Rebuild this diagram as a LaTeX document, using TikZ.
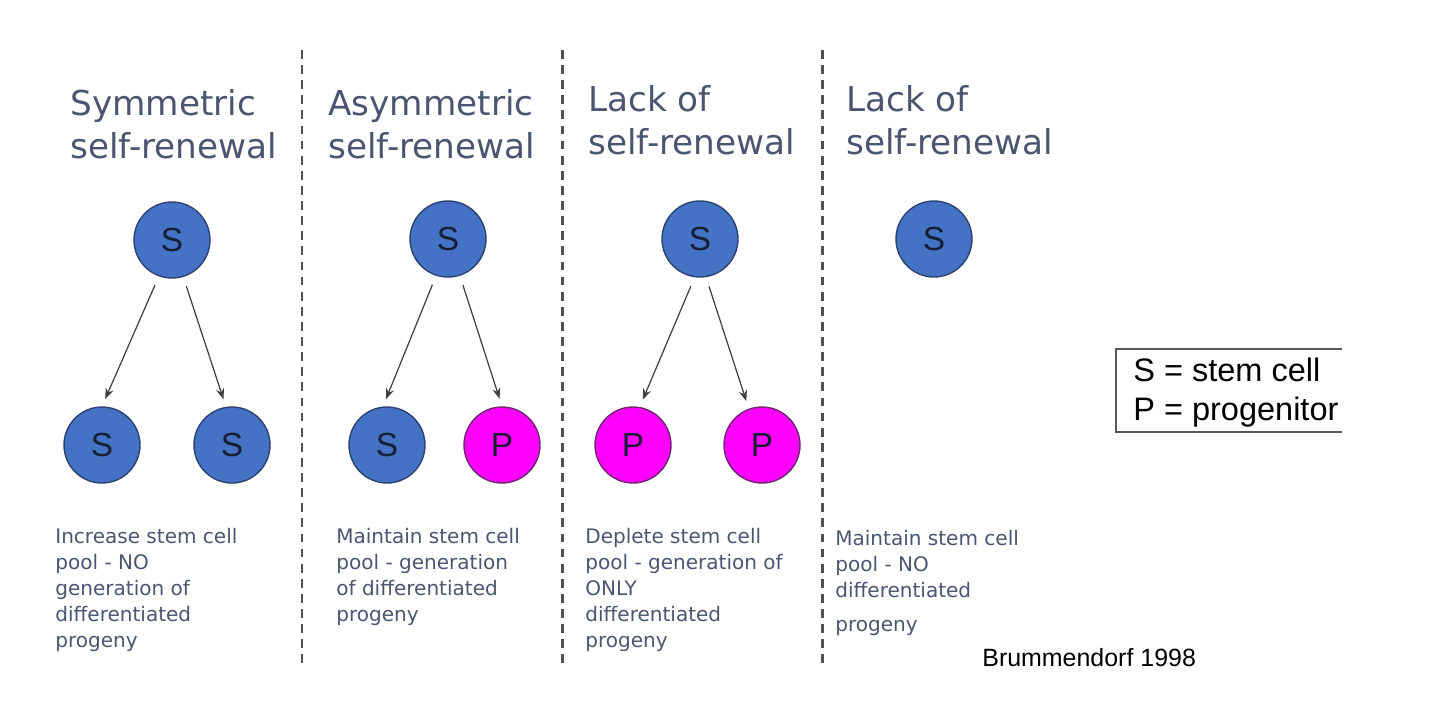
\documentclass[tikz,border=0pt]{standalone}
\usepackage{fontspec}
\setmainfont{DejaVu Sans}
\newfontfamily\arialfont{Liberation Sans}
\usetikzlibrary{positioning,arrows.meta}
\definecolor{cellblue}{RGB}{68,114,196}
\definecolor{cellline}{RGB}{44,66,112}
\definecolor{cellpink}{RGB}{255,0,255}
\definecolor{pinkline}{RGB}{110,40,110}
\definecolor{celltext}{RGB}{22,30,52}
\definecolor{txtblue}{RGB}{74,85,112}
\definecolor{divgray}{RGB}{80,80,80}

\begin{document}
\begin{tikzpicture}[x=0.02cm, y=-0.02cm, >=Stealth,
    stem/.style={circle, draw=cellline, line width=0.8pt, fill=cellblue, minimum size=1.52cm, inner sep=0pt, text=celltext, font=\arialfont\fontsize{19}{19}\selectfont},
    prog/.style={stem, draw=pinkline, fill=cellpink},
    heading/.style={anchor=base west, align=left, inner sep=0pt, text=txtblue, font=\fontsize{19.5}{24.4}\selectfont},
    remark/.style={anchor=base west, align=left, inner sep=0pt, text=txtblue, font=\fontsize{11.4}{14.7}\selectfont},
    divider/.style={draw=divgray, line width=1.7pt, dash pattern=on 5pt off 3.6pt},
    link/.style={->, draw=black!75, line width=0.7pt, shorten <=5.5pt, shorten >=4.5pt}]
    \useasboundingbox (0,0) rectangle (1440,708);

    % column dividers
    \draw [divider] (302,50) -- (302,668);
    \draw [divider] (562,50) -- (562,668);
    \draw [divider] (822,50) -- (822,668);

    % headings (placed at the baseline of their last line)
    \node [heading] (symT) at (70,158) {Symmetric\\self-renewal};
    \node [heading] (asyT) at (328,158) {Asymmetric\\self-renewal};
    \node [heading] (lackT) at (588,154) {Lack of\\self-renewal};
    \node [heading] (quiT) at (846,154) {Lack of\\self-renewal};

    % cells
    \node [stem] (symS) at (172,240) {S};
    \node [stem] (symL) at (102,445) {S};
    \node [stem] (symR) at (232,445) {S};

    \node [stem] (asyS) at (448,239) {S};
    \node [stem] (asyL) at (387,445) {S};
    \node [prog] (asyR) at (502,445) {P};

    \node [stem] (lackS) at (700,239) {S};
    \node [prog] (lackL) at (633,445) {P};
    \node [prog] (lackR) at (762,445) {P};

    \node [stem] (quiS) at (934,239) {S};

    % divisions
    \draw [link] (symS.-110) -- (symL.north);
    \draw [link] (symS.-73) -- (symR.99);
    \draw [link] (asyS.-108) -- (asyL.96);
    \draw [link] (asyS.-72) -- (asyR.north);
    \draw [link] (lackS.-98) -- (lackL.80);
    \draw [link] (lackS.-81) -- (lackR.110);

    % outcomes
    \node [remark] (symN) at (55,647) {Increase stem cell\\pool - NO\\generation of\\differentiated\\progeny};
    \node [remark] (asyN) at (336,621) {Maintain stem cell\\pool - generation\\of differentiated\\progeny};
    \node [remark] (lackN) at (585,647) {Deplete stem cell\\pool - generation of\\ONLY\\differentiated\\progeny};
    \node [remark] (quiN) at (835,631) {Maintain stem cell\\pool - NO\\differentiated\\[4.5pt]progeny};

    % legend
    \node [anchor=base west, align=left, inner sep=0pt, font=\arialfont\fontsize{18.5}{22}\selectfont] (key) at (1133,420) {S = stem cell\\P = progenitor};
    \draw [line width=0.8pt, draw=black!65] (1342,349) -- (1116,349) -- (1116,432) -- (1342,432);

    \node [anchor=base west, inner sep=0pt, font=\arialfont\fontsize{14.2}{16}\selectfont] (cite) at (982,666) {Brummendorf 1998};
\end{tikzpicture}
\end{document}
